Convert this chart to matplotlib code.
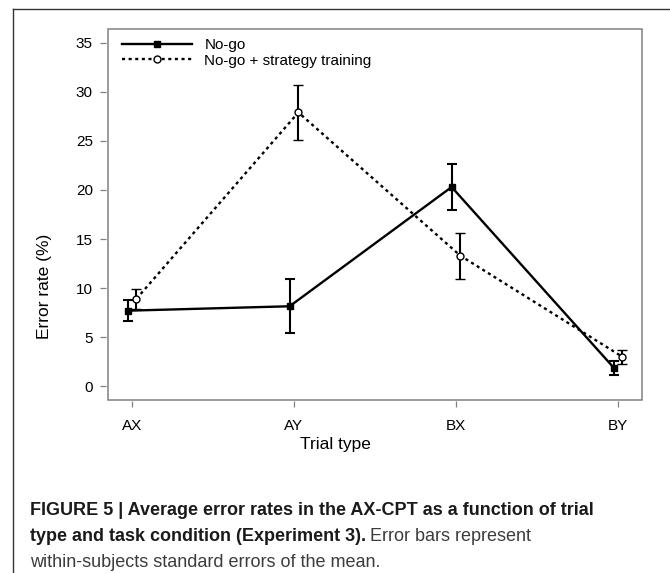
import matplotlib
matplotlib.use("Agg")
import matplotlib.pyplot as plt
from matplotlib.lines import Line2D
import numpy as np

plt.rcParams['font.family'] = ['Liberation Sans', 'DejaVu Sans']

# ---- data ----
categories = ['AX', 'AY', 'BX', 'BY']
nogo = [7.7, 8.15, 20.3, 1.9]
nogo_se = [1.05, 2.75, 2.35, 0.72]
strategy = [8.9, 27.9, 13.3, 3.0]
strategy_se = [1.05, 2.77, 2.35, 0.70]
series_labels = ['No-go', 'No-go + strategy training']
yticks = [0, 5, 10, 15, 20, 25, 30, 35]

W, H = 670, 573
fig = plt.figure(figsize=(W / 100, H / 100), dpi=100)

def fx(px):
    return px / W

def fy(py):
    return 1 - py / H

ax = fig.add_axes([fx(108), fy(400), fx(642) - fx(108), fy(29) - fy(400)])

x = np.arange(1, len(categories) + 1)
dodge = 0.027
spine_col = '#808080'
dash = (1.3, 1.5)

eb1 = ax.errorbar(x - dodge, nogo, yerr=nogo_se, color='black', lw=1.7,
                  marker='s', ms=4.4, mfc='black', mec='black',
                  capsize=3.5, capthick=1.5, elinewidth=1.5, zorder=3)
eb2 = ax.errorbar(x + dodge, strategy, yerr=strategy_se, color='black', lw=1.7,
                  marker='o', ms=5, mfc='white', mec='black', mew=1.0,
                  capsize=3.5, capthick=1.5, elinewidth=1.5, zorder=3)
eb2.lines[0].set_dashes(dash)

ax.set_xlim(0.852, 4.148)
ax.set_ylim(-1.4, 36.4)
ax.set_xticks(x)
ax.set_xticklabels(categories)
ax.set_yticks(yticks)

for s in ax.spines.values():
    s.set_visible(False)
ax.spines['left'].set_position(('outward', 1.6))
ax.spines['bottom'].set_position(('outward', 0.6))
ax.patch.set_edgecolor(spine_col)
ax.patch.set_linewidth(1.1)

ax.tick_params(axis='both', direction='out', length=4.3, width=0.9, color=spine_col,
               labelsize=11, labelcolor='black')
ax.tick_params(axis='y', pad=5)
ax.tick_params(axis='x', pad=8.5)

ax.set_xlabel('Trial type', fontsize=12.5)
ax.set_ylabel('Error rate (%)', fontsize=12.5)
ax.xaxis.set_label_coords(0.5, fy(437), transform=fig.transFigure)
ax.yaxis.set_label_coords(fx(52), 0.5, transform=fig.transFigure)

h1 = Line2D([], [], color='black', lw=1.7, marker='s', ms=4.4, mfc='black', mec='black')
h2 = Line2D([], [], color='black', lw=1.7, marker='o', ms=5, mfc='white', mec='black',
            mew=1.0, dashes=dash)
ax.legend([h1, h2], series_labels, loc='upper left', bbox_to_anchor=(fx(122), fy(38)),
          bbox_transform=fig.transFigure, frameon=False, fontsize=11,
          handlelength=4.6, handletextpad=0.8, labelspacing=0.1,
          borderpad=0, borderaxespad=0, numpoints=1)

# ---- outer frame ----
frame_col = '#333333'
fig.add_artist(Line2D([fx(13), fx(13)], [fy(9), 0], transform=fig.transFigure,
                      color=frame_col, lw=1.0))
fig.add_artist(Line2D([fx(13), 1], [fy(9), fy(9)], transform=fig.transFigure,
                      color=frame_col, lw=1.0))

# ---- caption ----
cap_fs = 13
bold_col = '#1a1a1a'
reg_col = '#3c3c3c'
fig.text(fx(30), fy(515), 'FIGURE 5 | Average error rates in the AX-CPT as a function of trial',
         fontsize=cap_fs, fontweight='bold', color=bold_col, va='baseline', ha='left')
t2 = fig.text(fx(30), fy(541), 'type and task condition (Experiment 3).',
              fontsize=cap_fs, fontweight='bold', color=bold_col, va='baseline', ha='left')
fig.canvas.draw()
bb = t2.get_window_extent()
fig.text((bb.x1 + 4) / W, fy(541), 'Error bars represent',
         fontsize=cap_fs, color=reg_col, va='baseline', ha='left')
fig.text(fx(30), fy(567), 'within-subjects standard errors of the mean.',
         fontsize=cap_fs, color=reg_col, va='baseline', ha='left')

fig.savefig('out.png', dpi=100)
